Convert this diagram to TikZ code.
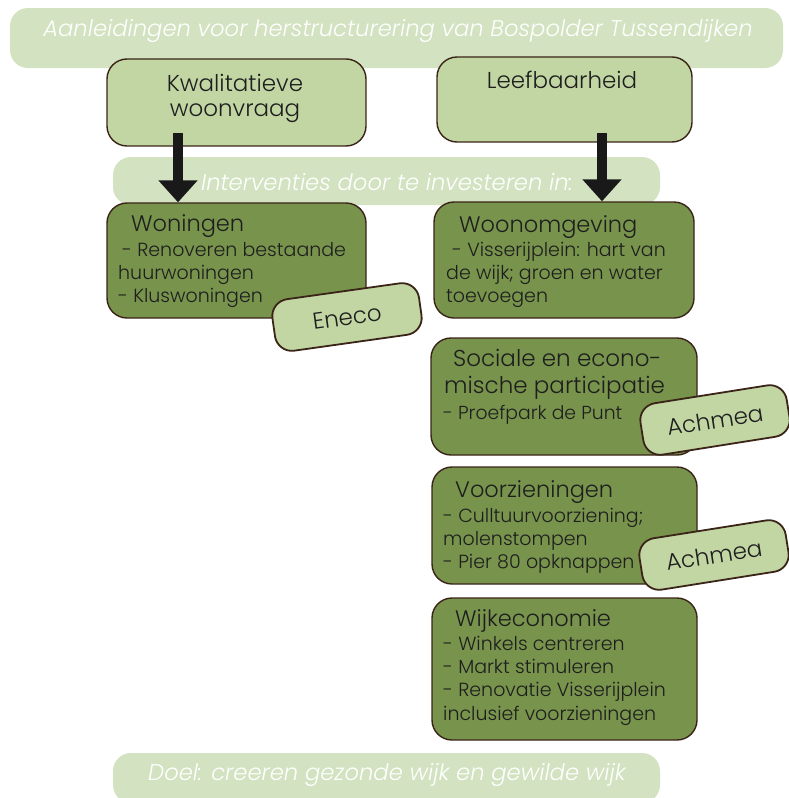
\documentclass[tikz,border=0pt]{standalone}
\usepackage{fontspec}
% a light geometric sans; plain Poppins when the light cut is absent
\IfFontExistsTF{Poppins Light}{%
  \IfFontExistsTF{Poppins Light Italic}{%
    \setmainfont{Poppins Light}[ItalicFont={Poppins Light Italic}]}{%
    \setmainfont{Poppins Light}}}{%
  \setmainfont{Poppins}}
\usetikzlibrary{arrows.meta}

\definecolor{bannergreen}{HTML}{D3E2C0}
\definecolor{lightgreen}{HTML}{C2D6A4}
\definecolor{darkgreen}{HTML}{77934C}
\definecolor{edgebrown}{HTML}{3A2418}
\definecolor{inktext}{HTML}{1E1E1E}

\tikzset{
  banner/.style={fill=bannergreen, draw=none, rounded corners=18pt, inner sep=0pt},
  bannertext/.style={text=white, font=\itshape\fontsize{22.7}{26}\selectfont},
  causebox/.style={fill=lightgreen, draw=edgebrown, line width=1.4pt, rounded corners=20pt, inner sep=0pt},
  actionbox/.style={fill=darkgreen, draw=edgebrown, line width=1.4pt, rounded corners=20pt, inner sep=0pt},
  partnertag/.style={fill=lightgreen, draw=edgebrown, line width=1.8pt, rounded corners=17pt, inner sep=0pt,
    minimum width=148pt, minimum height=52pt, text=inktext, font=\fontsize{23}{26}\selectfont},
  causetext/.style={text=inktext, align=center, font=\fontsize{23}{25}\selectfont},
  % one line of text in an intervention box, placed by its baseline
  itemline/.style={text=inktext, anchor=base west, inner sep=0pt, font=\fontsize{19}{23}\selectfont},
  titleline/.style={itemline, font=\fontsize{22.5}{26}\selectfont},
  bigarrow/.style={line width=10pt, draw=black!90, -{Triangle[width=38pt,length=22pt]}}
}

\begin{document}
\begin{tikzpicture}[x=1pt,y=-1pt]
\useasboundingbox (0,0) rectangle (788,798);

% headline banner and its two causes
\node[banner, minimum width=773pt, minimum height=60pt] (top) at (396.5,38) {};
\node[bannertext] (toptext) at (398,31) {Aanleidingen voor herstructurering van Bospolder Tussendijken};

\node[causebox, minimum width=259pt, minimum height=87pt] (kwal) at (236.5,102.5) {};
\node[causetext] (kwaltext) at (235,98) {Kwalitatieve\\woonvraag};
\node[causebox, minimum width=255pt, minimum height=85pt] (leef) at (564.5,99.5) {};
\node[causetext] (leeftext) at (562,80) {Leefbaarheid};

% middle banner
\node[banner, minimum width=547pt, minimum height=48pt] (mid) at (386.5,181) {};
\node[bannertext] (midtext) at (387,182) {Interventies door te investeren in:};

% intervention boxes
\node[actionbox, minimum width=259pt, minimum height=115pt] (won) at (236.5,260.5) {};
\node[actionbox, minimum width=260pt, minimum height=116pt] (woon) at (564,260) {};
\node[actionbox, minimum width=266pt, minimum height=117pt] (soc) at (564,396.5) {};
\node[actionbox, minimum width=265pt, minimum height=117pt] (voor) at (564.5,525.5) {};
\node[actionbox, minimum width=265pt, minimum height=142pt] (wijk) at (564.5,669) {};

% arrows from the causes to the interventions
\coordinate (kwalfoot) at (178,133);
\coordinate (leeffoot) at (602,133);
\draw[bigarrow] (kwalfoot) -- (won.north -| kwalfoot);
\draw[bigarrow] (leeffoot) -- (woon.north -| leeffoot);

% Woningen
\node[titleline] (won1) at (131,231.5) {Woningen};
\node[itemline]  (won2) at (122,256.5) {- Renoveren bestaande};
\node[itemline]  (won3) at (118,279.5) {huurwoningen};
\node[itemline]  (won4) at (118,302.5) {- Kluswoningen};

% Woonomgeving
\node[titleline] (woon1) at (459,232.5) {Woonomgeving};
\node[itemline]  (woon2) at (452,256) {- Visserijplein: hart van};
\node[itemline]  (woon3) at (446,279) {de wijk; groen en water};
\node[itemline]  (woon4) at (446,302) {toevoegen};

% Sociale en economische participatie
\node[titleline, font=\fontsize{23}{26}\selectfont] (soc1) at (453,366.5) {Sociale en econo-};
\node[titleline, font=\fontsize{23}{26}\selectfont] (soc2) at (444,393.5) {mische participatie};
\node[itemline, font=\fontsize{18.8}{22}\selectfont] (soc3) at (443,419) {- Proefpark de Punt};

% Voorzieningen
\node[titleline] (voor1) at (455,497) {Voorzieningen};
\node[itemline]  (voor2) at (443,522.5) {- Culltuurvoorziening;};
\node[itemline]  (voor3) at (443,545.5) {molenstompen};
\node[itemline]  (voor4) at (443,568.5) {- Pier 80 opknappen};

% Wijkeconomie
\node[titleline] (wijk1) at (455,626.5) {Wijkeconomie};
\node[itemline]  (wijk2) at (443,650) {- Winkels centreren};
\node[itemline]  (wijk3) at (443,673.3) {- Markt stimuleren};
\node[itemline]  (wijk4) at (443,696.7) {- Renovatie Visserijplein};
\node[itemline]  (wijk5) at (443,720) {inclusief voorzieningen};

% partner tags
\node[partnertag, rotate=8] (eneco) at (347,317) {Eneco};
\node[partnertag, rotate=9] (achmea1) at (715,420) {Achmea};
\node[partnertag, rotate=9] (achmea2) at (714,555) {Achmea};

% closing banner
\node[banner, minimum width=547pt, minimum height=50pt] (bottom) at (386.5,778) {};
\node[bannertext] (bottomtext) at (387,775) {Doel: creeren gezonde wijk en gewilde wijk};
\end{tikzpicture}
\end{document}
